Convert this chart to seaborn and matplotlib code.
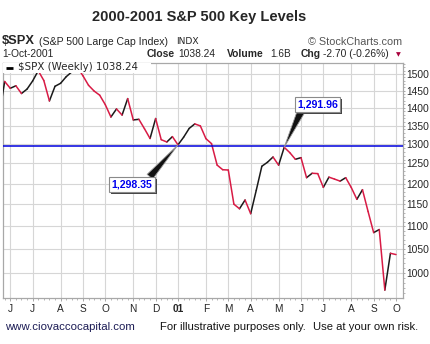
import numpy as np
import pandas as pd
import matplotlib
matplotlib.use("Agg")
import matplotlib.pyplot as plt
import matplotlib.dates as mdates
import matplotlib.ticker as mticker
import matplotlib.patheffects as pe
from matplotlib.patches import Rectangle
import seaborn as sns

# ---------------- data ----------------
week_start = "2000-05-22"          # Monday of first weekly bar
closes = [
    1378.02, 1477.26, 1456.95, 1464.46, 1441.48, 1454.60, 1478.90, 1509.98,
    1480.19, 1419.89, 1462.93, 1471.84, 1491.72, 1506.45, 1520.77, 1494.50,
    1465.81, 1448.72, 1436.51, 1408.99, 1374.17, 1396.93, 1379.58, 1426.69,
    1365.98, 1367.72, 1341.77, 1315.23, 1369.89, 1312.15, 1305.95, 1320.28,
    1298.35, 1318.55, 1342.54, 1354.95, 1349.47, 1314.76, 1301.53, 1245.86,
    1234.18, 1233.42, 1150.53, 1139.83, 1160.33, 1128.43, 1183.50, 1242.98,
    1253.05, 1266.61, 1245.67, 1291.96, 1277.89, 1260.67, 1264.96, 1214.36,
    1225.35, 1224.42, 1190.59, 1215.68, 1210.85, 1205.82, 1214.35, 1190.16,
    1161.97, 1184.93, 1133.58, 1085.78, 1092.54, 965.80, 1040.94, 1038.24,
]
key_level = 1295
callout_dates = ["2001-01-01", "2001-05-14"]
callout_values = [1298.35, 1291.96]
callout_labels = ["1,298.35", "1,291.96"]
y_ticks = [1000, 1050, 1100, 1150, 1200, 1250, 1300, 1350, 1400, 1450, 1500]
month_labels = ["J", "J", "A", "S", "O", "N", "D", "01", "F", "M", "A",
                "M", "J", "J", "A", "S", "O"]

dates = pd.date_range(week_start, periods=len(closes), freq="7D")

rows = []
for i in range(len(closes) - 1):
    d = "up" if closes[i + 1] >= closes[i] else "down"
    rows.append(dict(seg=i, date=dates[i], close=closes[i], dir=d))
    rows.append(dict(seg=i, date=dates[i + 1], close=closes[i + 1], dir=d))
seg_df = pd.DataFrame(rows)

# ---------------- figure ----------------
sns.set_theme(style="white")
plt.rcParams["font.family"] = ["Liberation Sans", "DejaVu Sans"]

W, H = 430, 344
fig = plt.figure(figsize=(W / 100, H / 100), dpi=100)
fig.patch.set_facecolor("white")
L, R, T, B = 2.5, 403, 63, 298
ax = fig.add_axes([L / W, 1 - B / H, (R - L) / W, (B - T) / H])
ax.set_facecolor("white")
ax.set_yscale("log")

sns.lineplot(data=seg_df, x="date", y="close", hue="dir", units="seg",
             estimator=None, sort=False, legend=False,
             palette={"up": "#1a1a1a", "down": "#d81b45"},
             linewidth=1.1, ax=ax, zorder=3)

ax.axhline(key_level, color="#0000dd", lw=1.1, zorder=4)

x_left = pd.Timestamp("2000-05-26 06:00")
x_right = pd.Timestamp("2001-10-09 18:00")
ax.set_xlim(x_left, x_right)
ax.set_ylim(950.3, 1534)

# ticks
month_ticks = [d for d in dates if d.day <= 7 and d >= pd.Timestamp("2000-06-01")]
ax.set_xticks(month_ticks)
ax.set_xticklabels(month_labels, fontsize=7.3)
ax.get_xticklabels()[7].set_fontweight("bold")
ax.xaxis.set_minor_locator(mticker.FixedLocator(mdates.date2num(list(dates))))
ax.tick_params(axis="x", which="major", length=2.5, width=0.6, color="#999999",
               pad=1.5, direction="out", bottom=True)
ax.tick_params(axis="x", which="minor", length=1.5, width=0.6, color="#aaaaaa",
               bottom=True)

ax.yaxis.tick_right()
ax.set_yticks(y_ticks)
ax.yaxis.set_major_formatter(mticker.FuncFormatter(lambda v, p: f"{int(round(v))}"))
ax.yaxis.set_minor_locator(mticker.FixedLocator(list(range(960, 1540, 10))))
ax.yaxis.set_minor_formatter(mticker.NullFormatter())
ax.tick_params(axis="y", which="major", length=1.5, width=0.6, color="#999999",
               pad=0.8, labelsize=7.4, right=True, left=False)
ax.tick_params(axis="y", which="minor", length=1.2, width=0.6, color="#aaaaaa",
               right=True, left=False)
ax.set_xlabel("")
ax.set_ylabel("")

ax.grid(True, which="major", color="#d6d6d6", lw=0.8, zorder=0)
ax.set_axisbelow(True)
for s in ax.spines.values():
    s.set_color("#a8a8a8")
    s.set_linewidth(0.9)

# legend box
ax.add_patch(Rectangle((0, 1 - 10 / (B - T)), 148 / (R - L), 10 / (B - T),
                       transform=ax.transAxes, fc="white", ec="none", zorder=6))
ax.plot([3 / (R - L), 10 / (R - L)], [1 - 4.5 / (B - T)] * 2,
        transform=ax.transAxes, color="black", lw=2, zorder=7,
        solid_capstyle="butt")
ax.text(15 / (R - L), 1 - 4.5 / (B - T), r"\$SPX (Weekly) 1038.24",
        transform=ax.transAxes, fontsize=7.4, family="DejaVu Sans",
        va="center", ha="left", zorder=7)

# callouts
box_centers = [(132, 344 - 184.5), (317.5, 344 - 104.5)]
relposes = [(0.88, 1.0), (0.12, 0.0)]
for d, v, lab, c, rp in zip(callout_dates, callout_values, callout_labels,
                            box_centers, relposes):
    ann = ax.annotate(
        lab, xy=(pd.Timestamp(d), v), xytext=c, textcoords="figure pixels",
        ha="center", va="center", fontsize=7.6, fontweight="bold",
        color="#0000ee", zorder=8,
        bbox=dict(boxstyle="square,pad=0.22", fc="white", ec="#8a8a8a", lw=0.8),
        arrowprops=dict(arrowstyle="wedge,tail_width=0.7,shrink_factor=0.5",
                        fc="#111111", ec="#9a9a9a", lw=0.6, relpos=rp,
                        shrinkA=0, shrinkB=0))
    ann.get_bbox_patch().set_path_effects(
        [pe.SimplePatchShadow(offset=(1.5, -1.5), shadow_rgbFace="#444444",
                              alpha=1.0), pe.Normal()])


def ft(x, y, s, **kw):
    fig.text(x / W, 1 - y / H, s, va="center", **kw)


# header
ft(199, 17.5, "2000-2001 S&P 500 Key Levels", ha="center", fontsize=10.5,
   fontweight="bold")
ft(2, 41.5, r"\$SPX", fontsize=9.3, fontweight="bold")
ft(39, 42, "(S&P 500 Large Cap Index)", fontsize=7.6)
ft(176, 42, "INDX", fontsize=6.6, family="DejaVu Sans")
ft(402, 42, "© StockCharts.com", ha="right", fontsize=7.8, color="#555555")

ft(2, 54, "1-Oct-2001", fontsize=7.4)
ft(147, 54, "Close", fontsize=7.4, fontweight="bold")
ft(178, 54, "1038.24", fontsize=7.4)
ft(227, 54, "Volume", fontsize=7.4, fontweight="bold")
ft(270, 54, "1.6B", fontsize=7.2)
ft(301, 54, "Chg", fontsize=7.4, fontweight="bold")
ft(323, 54, "-2.70 (-0.26%)", fontsize=7.4)
ft(398, 54.5, "▼", ha="center", fontsize=4.5, color="#a8003c",
   family="DejaVu Sans")

# footer
ft(5, 327, "www.ciovaccocapital.com", fontsize=8.2, color="#1c1c55")
ft(160, 327, "For illustrative purposes only.", fontsize=8.1, color="#141414")
ft(313, 327, "Use at your own risk.", fontsize=8.1, color="#141414")

fig.savefig("out.png", dpi=100, facecolor="white")
